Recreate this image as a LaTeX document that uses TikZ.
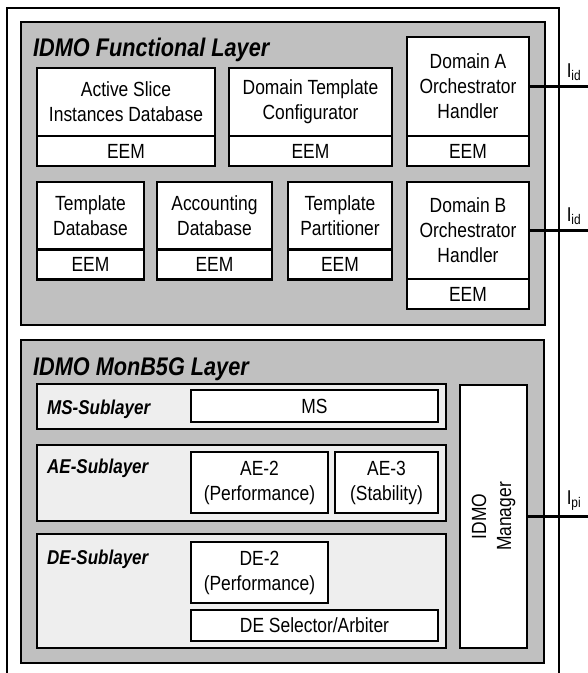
\documentclass[tikz,border=0pt]{standalone}
\usepackage{fontspec}
\setmainfont[FakeStretch=0.85]{Liberation Sans}
\definecolor{layergray}{HTML}{C0C0C0}
\definecolor{subgray}{HTML}{EEEEEE}
\tikzset{
  layer/.style={draw=black, fill=layergray, line width=2.6pt},
  sublayer/.style={draw=black, fill=subgray, line width=2.6pt},
  block/.style={draw=black, fill=white, line width=2.6pt, align=center, inner sep=0pt,
    font=\fontsize{20.5}{25}\selectfont},
  eem/.style={block, minimum height=30pt},
  layertitle/.style={anchor=base west, inner sep=0pt, font=\fontsize{25.5}{30}\selectfont\bfseries\itshape},
  subtitle/.style={anchor=base west, inner sep=0pt, font=\fontsize{20}{24}\selectfont\bfseries\itshape},
  iface/.style={anchor=south, inner sep=0pt, font=\fontsize{20}{22}\selectfont},
  link/.style={line width=2.2pt}
}
\begin{document}
\begin{tikzpicture}[x=1pt, y=-1pt]
    \useasboundingbox (0,0) rectangle (588,673);
    % outer frame, open at the bottom
    \draw[line width=2.4pt] (7,673) -- (7,8) -- (559,8) -- (559,673);

    % 1. functional layer
    \draw[layer] (21,22) rectangle (545,325);
    \node[layertitle] (ftitle) at (33,56) {IDMO Functional Layer};

    \node[block, minimum width=178pt, minimum height=68pt] (asid) at (126,102) {Active Slice\\Instances Database};
    \node[eem, minimum width=178pt] (asideem) at (126,151) {EEM};
    \node[block, minimum width=163pt, minimum height=68pt] (dtc) at (310.5,102) {Domain Template\\Configurator};
    \node[eem, minimum width=163pt] (dtceem) at (310.5,151) {EEM};
    \node[block, minimum width=122pt, minimum height=99pt] (doa) at (468,86.5) {Domain A\\Orchestrator\\Handler};
    \node[eem, minimum width=122pt] (doaeem) at (468,151) {EEM};

    \node[block, minimum width=107pt, minimum height=67pt] (tdb) at (90.5,215.5) {Template\\Database};
    \node[eem, minimum width=107pt] (tdbeem) at (90.5,264.5) {EEM};
    \node[block, minimum width=115pt, minimum height=67pt] (adb) at (214.5,215.5) {Accounting\\Database};
    \node[eem, minimum width=115pt] (adbeem) at (214.5,264.5) {EEM};
    \node[block, minimum width=104pt, minimum height=67pt] (tpart) at (340,215.5) {Template\\Partitioner};
    \node[eem, minimum width=104pt] (tparteem) at (340,264.5) {EEM};
    \node[block, minimum width=122pt, minimum height=97pt] (dob) at (468,230.5) {Domain B\\Orchestrator\\Handler};
    \node[eem, minimum width=122pt] (dobeem) at (468,294) {EEM};

    % 2. MonB5G layer
    \draw[layer] (21,340) rectangle (544,663);
    \node[layertitle] (mtitle) at (33,375) {IDMO MonB5G Layer};

    \draw[sublayer] (37,384) rectangle (446,429);
    \node[subtitle] (mstitle) at (47,414) {MS-Sublayer};
    \node[block, minimum width=247pt, minimum height=32pt] (ms) at (314.5,406) {MS};

    \draw[sublayer] (37,445) rectangle (446,521);
    \node[subtitle] (aetitle) at (47,473) {AE-Sublayer};
    \node[block, minimum width=137pt, minimum height=61pt] (ae2) at (259.5,482.5) {AE-2\\(Performance)};
    \node[block, minimum width=103pt, minimum height=61pt] (ae3) at (386.5,482.5) {AE-3\\(Stability)};

    \draw[sublayer] (37,534) rectangle (446,648);
    \node[subtitle] (detitle) at (47,564) {DE-Sublayer};
    \node[block, minimum width=137pt, minimum height=61pt] (de2) at (259.5,572.5) {DE-2\\(Performance)};
    \node[block, minimum width=247pt, minimum height=31pt] (desel) at (314.5,625.5) {DE Selector/Arbiter};

    \node[block, minimum width=67pt, minimum height=263pt] (mgr) at (493.5,516.5) {};
    \node[rotate=90, align=center, font=\fontsize{20.5}{25}\selectfont] (mgrtxt) at (mgr.center) {IDMO\\Manager};

    % 3. interfaces
    \coordinate (ida) at (588,86.5);
    \coordinate (idb) at (588,230.5);
    \coordinate (ipi) at (588,516.5);
    \draw[link] (doa.east) -- (ida);
    \draw[link] (dob.east) -- (idb);
    \draw[link] (mgr.east) -- (ipi);
    \node[iface] (idalbl) at (574,81) {I\textsubscript{id}};
    \node[iface] (idblbl) at (574,225) {I\textsubscript{id}};
    \node[iface] (ipilbl) at (574,511) {I\textsubscript{pi}};
  \end{tikzpicture}
\end{document}
